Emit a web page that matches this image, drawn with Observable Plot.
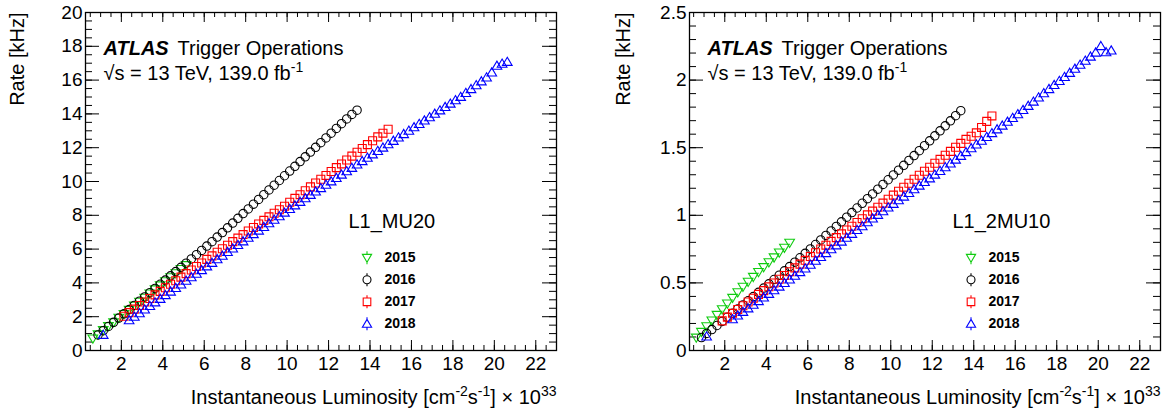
<!DOCTYPE html>
<html><head><meta charset="utf-8">
<script src="https://cdn.jsdelivr.net/npm/d3@7"></script>
<script src="https://cdn.jsdelivr.net/npm/@observablehq/plot@0.6"></script>
<style>
html,body{margin:0;padding:0;background:#fff;}
#wrap{position:relative;width:1172px;height:414px;overflow:hidden;font-family:"Liberation Sans",Arial,Helvetica,sans-serif;}
#wrap svg{position:absolute;top:0;}
</style></head><body><div id="wrap"></div>
<script>
// ---- luminosity bin centres (x 10^33 cm^-2 s^-1) ----
const lumiBins = [0.125,0.375,0.625,0.875,1.125,1.375,1.625,1.875,2.125,2.375,2.625,2.875,3.125,3.375,3.625,3.875,4.125,4.375,4.625,4.875,5.125,5.375,5.625,5.875,6.125,6.375,6.625,6.875,7.125,7.375,7.625,7.875,8.125,8.375,8.625,8.875,9.125,9.375,9.625,9.875,10.125,10.375,10.625,10.875,11.125,11.375,11.625,11.875,12.125,12.375,12.625,12.875,13.125,13.375,13.625,13.875,14.125,14.375,14.625,14.875,15.125,15.375,15.625,15.875,16.125,16.375,16.625,16.875,17.125,17.375,17.625,17.875,18.125,18.375,18.625,18.875,19.125,19.375,19.625,19.875,20.125,20.375,20.625,20.875];

const years = ["2015","2016","2017","2018"];
const yearColors = ["#11cc11","#000000","#ff0000","#0000ff"];

// ---- L1_MU20 rates [kHz], first bin given by start ----
const mu20Start = [0.625, 0.875, 2.125, 1.125];
const mu20_2015 = [0.71,0.95,1.20,1.44,1.67,1.93,2.16,2.40,2.65,2.88,3.12,3.37,3.61,3.85,4.09,4.33,4.57,4.82,5.05];
const mu20_2016 = [0.92,1.17,1.42,1.67,1.92,2.17,2.42,2.67,2.92,3.17,3.42,3.67,3.92,4.17,4.42,4.67,4.92,5.17,5.42,5.67,5.92,6.18,6.44,6.71,6.98,7.26,7.54,7.82,8.10,8.38,8.66,8.94,9.22,9.50,9.78,10.06,10.34,10.62,10.90,11.18,11.46,11.74,12.02,12.30,12.58,12.86,13.14,13.42,13.70,13.97,14.22];
const mu20_2017 = [2.03,2.24,2.45,2.66,2.87,3.08,3.29,3.50,3.71,3.92,4.13,4.34,4.55,4.76,4.97,5.18,5.39,5.60,5.81,6.02,6.23,6.44,6.65,6.86,7.07,7.28,7.49,7.70,7.91,8.12,8.33,8.54,8.77,9.00,9.22,9.45,9.68,9.91,10.13,10.36,10.59,10.82,11.04,11.27,11.50,11.73,11.95,12.18,12.41,12.64,12.86,13.09];
const mu20_2018 = [0.93,null,null,null,null,1.79,2.00,2.21,2.43,2.64,2.85,3.06,3.28,3.49,3.70,3.91,4.13,4.34,4.55,4.76,4.98,5.19,5.40,5.61,5.83,6.04,6.25,6.46,6.68,6.89,7.10,7.31,7.53,7.74,7.95,8.16,8.38,8.59,8.80,9.01,9.21,9.41,9.61,9.81,10.01,10.21,10.41,10.61,10.81,11.01,11.21,11.41,11.61,11.81,12.01,12.21,12.41,12.61,12.81,13.01,13.21,13.41,13.61,13.81,14.01,14.21,14.41,14.61,14.81,15.01,15.24,15.47,15.70,15.93,16.16,16.45,16.85,16.97,17.08];

// ---- L1_2MU10 rates [kHz] ----
const mu10Start = [0.625, 0.875, 1.875, 1.125];
const mu10_2015 = [0.095,0.137,0.179,0.221,0.263,0.305,0.347,0.389,0.430,0.471,0.508,0.544,0.580,0.616,0.652,0.688,0.724,0.760,0.796];
const mu10_2016 = [0.096,0.126,0.155,0.185,0.215,0.246,0.276,0.307,0.337,0.368,0.399,0.430,0.462,0.493,0.525,0.557,0.589,0.621,0.653,0.686,0.719,0.751,0.784,0.818,0.851,0.884,0.918,0.952,0.986,1.020,1.054,1.089,1.123,1.158,1.193,1.228,1.263,1.299,1.334,1.370,1.406,1.442,1.478,1.515,1.551,1.588,1.625,1.662,1.699,1.737,1.774];
const mu10_2017 = [0.219,0.247,0.275,0.303,0.331,0.359,0.387,0.415,0.443,0.471,0.499,0.527,0.555,0.583,0.611,0.639,0.667,0.695,0.723,0.751,0.779,0.807,0.835,0.863,0.891,0.919,0.947,0.975,1.003,1.031,1.060,1.090,1.119,1.149,1.178,1.208,1.237,1.267,1.296,1.326,1.355,1.385,1.414,1.444,1.473,1.503,1.532,1.562,1.585,1.610,1.650,1.695,1.735];
const mu10_2018 = [0.104,null,null,null,null,0.232,0.259,0.286,0.312,0.339,0.366,0.392,0.419,0.446,0.473,0.500,0.526,0.553,0.580,0.607,0.635,0.664,0.692,0.721,0.749,0.778,0.806,0.835,0.863,0.892,0.920,0.949,0.977,1.004,1.031,1.058,1.085,1.112,1.139,1.166,1.193,1.220,1.247,1.274,1.301,1.328,1.356,1.384,1.412,1.440,1.468,1.496,1.524,1.552,1.580,1.608,1.636,1.664,1.692,1.720,1.748,1.779,1.810,1.841,1.872,1.903,1.934,1.964,1.994,2.024,2.054,2.084,2.114,2.144,2.174,2.204,2.252,2.207,2.219];

// ---- axis ticks ----
const xMajorTicks = [2,4,6,8,10,12,14,16,18,20,22];
const yMajorMU20 = [0,2,4,6,8,10,12,14,16,18,20];
const yMajor2MU10 = [0,0.5,1,1.5,2,2.5];

// ---- symbols (ROOT markers 32, 24, 25, 26) ----
const R = (size) => Math.sqrt(size / Math.PI);
const symTriDown = {draw(c, s){const r=R(s); c.moveTo(0,1.1*r); c.lineTo(1.15*r,-0.85*r); c.lineTo(-1.15*r,-0.85*r); c.closePath();}};
const symCircle = {draw(c, s){const r=R(s); c.moveTo(r,0); c.arc(0,0,r,0,2*Math.PI); c.closePath();}};
const symSquare = {draw(c, s){const r=R(s)*0.95; c.moveTo(-r,-r); c.lineTo(r,-r); c.lineTo(r,r); c.lineTo(-r,r); c.closePath();}};
const symTriUp = {draw(c, s){const r=R(s); c.moveTo(0,-1.1*r); c.lineTo(1.15*r,0.85*r); c.lineTo(-1.15*r,0.85*r); c.closePath();}};
const symbols = [symTriDown, symCircle, symSquare, symTriUp];
const symExt = [[0.85,1.1],[1,1],[0.95,0.95],[1.1,0.85]]; // top, bottom extents (in r)
function withBar(i){
  const base = symbols[i], [t,b] = symExt[i];
  return {draw(c, s){ base.draw(c, s); const r=R(s); c.moveTo(0,-t*r); c.lineTo(0,-6.5); c.moveTo(0,b*r); c.lineTo(0,6.5); }};
}

function rows(start, rates){
  const i0 = lumiBins.indexOf(start);
  return rates.map((v, j) => ({x: lumiBins[i0 + j], y: v})).filter(d => d.y != null);
}

const W = 586, H = 414, MT = 12, MB = 64;
const FH = H - MT - MB;

function panel(cfg){
  const FW = W - cfg.ml - cfg.mr;
  const xMinor = d3.range(0.5, 23, 0.5);
  const marks = [];
  // ticks (inside the frame, all four sides)
  marks.push(Plot.tickX(xMinor, {x: d=>d, insetTop: FH-5, strokeWidth: 1}));
  marks.push(Plot.tickX(xMinor, {x: d=>d, insetBottom: FH-5, strokeWidth: 1}));
  marks.push(Plot.tickX(xMajorTicks, {x: d=>d, insetTop: FH-10, strokeWidth: 1}));
  marks.push(Plot.tickX(xMajorTicks, {x: d=>d, insetBottom: FH-10, strokeWidth: 1}));
  marks.push(Plot.tickY(cfg.yMinor, {y: d=>d, insetRight: FW-7, strokeWidth: 1}));
  marks.push(Plot.tickY(cfg.yMinor, {y: d=>d, insetLeft: FW-7, strokeWidth: 1}));
  marks.push(Plot.tickY(cfg.yMajor, {y: d=>d, insetRight: FW-14, strokeWidth: 1}));
  marks.push(Plot.tickY(cfg.yMajor, {y: d=>d, insetLeft: FW-14, strokeWidth: 1}));
  // tick labels
  marks.push(Plot.text(xMajorTicks, {x: d=>d, frameAnchor: "bottom", lineAnchor: "top", dy: 6, text: d=>String(d), fontSize: 19, fill: "black"}));
  marks.push(Plot.text(cfg.yMajor, {y: d=>d, frameAnchor: "left", lineAnchor: "middle", textAnchor: "end", dx: -3, text: d=>String(d), fontSize: 19, fill: "black"}));
  marks.push(Plot.frame({stroke: "black", strokeWidth: 1.3}));
  // data
  cfg.series.forEach((s, i) => {
    marks.push(Plot.dot(rows(cfg.starts[i], s), {x: "x", y: "y", symbol: symbols[i], r: 4.2, stroke: yearColors[i], fill: "none", strokeWidth: 1.1}));
  });
  // texts
  const T = {frameAnchor: "top-left", lineAnchor: "middle", textAnchor: "start", fill: "black"};
  marks.push(Plot.text(["ATLAS"], {...T, dx: 18, dy: 36, fontSize: 20, fontWeight: "bold", fontStyle: "italic"}));
  marks.push(Plot.text(["Trigger Operations"], {...T, dx: 92, dy: 36, fontSize: 20}));
  marks.push(Plot.text(["√s = 13 TeV, 139.0 fb⁻¹"], {...T, dx: 18, dy: 61, fontSize: 20}));
  marks.push(Plot.text([cfg.trigger], {...T, dx: 263, dy: 209, fontSize: 20}));
  // legend
  years.forEach((yr, i) => {
    const dy = 245.3 + i * 22;
    marks.push(Plot.dot([yr], {frameAnchor: "top-left", dx: 281.5, dy, symbol: withBar(i), r: 4, stroke: yearColors[i], fill: "none", strokeWidth: 1.1}));
    marks.push(Plot.text([yr], {...T, dx: 299, dy, fontSize: 14, fontWeight: "bold"}));
  });
  // axis titles
  marks.push(Plot.text(["Rate [kHz]"], {frameAnchor: "top-left", lineAnchor: "middle", dx: cfg.rateDx, dy: 0, rotate: -90, textAnchor: "end", fontSize: 20, fill: "black"}));
  marks.push(Plot.text(["Instantaneous Luminosity [cm⁻²s⁻¹] × 10³³"], {frameAnchor: "bottom-right", lineAnchor: "middle", dx: 0, dy: 47, textAnchor: "end", fontSize: 20, fill: "black"}));

  const svg = Plot.plot({
    width: W, height: H,
    marginLeft: cfg.ml, marginRight: cfg.mr, marginTop: MT, marginBottom: MB,
    x: {domain: cfg.xDomain, axis: null},
    y: {domain: cfg.yDomain, axis: null},
    style: {fontFamily: '"Liberation Sans", Arial, Helvetica, sans-serif', background: "white", overflow: "visible", color: "black"},
    marks
  });
  svg.style.left = cfg.left + "px";
  // superscripts as real tspans
  svg.querySelectorAll("text").forEach(t => {
    const s = t.textContent;
    const sup = (v) => `<tspan dy="-8" font-size="14">${v}</tspan>`;
    if (s === "√s = 13 TeV, 139.0 fb⁻¹") {
      t.innerHTML = `√s = 13 TeV, 139.0 fb${sup("-1")}`;
    } else if (s.startsWith("Instantaneous")) {
      t.innerHTML = `Instantaneous Luminosity [cm${sup("-2")}<tspan dy="8">s</tspan>${sup("-1")}<tspan dy="8">] × 10</tspan>${sup("33")}`;
    }
  });
  return svg;
}

const wrap = document.getElementById("wrap");
wrap.appendChild(panel({
  left: 0, ml: 85, mr: 30, xDomain: [0.27, 23.0], yDomain: [0, 20],
  yMajor: yMajorMU20, yMinor: d3.range(0, 20.01, 0.5),
  series: [mu20_2015, mu20_2016, mu20_2017, mu20_2018], starts: mu20Start,
  trigger: "L1_MU20", rateDx: -68
}));
wrap.appendChild(panel({
  left: 586, ml: 103, mr: 12, xDomain: [0.3, 23.0], yDomain: [0, 2.5],
  yMajor: yMajor2MU10, yMinor: d3.range(0, 2.501, 0.1),
  series: [mu10_2015, mu10_2016, mu10_2017, mu10_2018], starts: mu10Start,
  trigger: "L1_2MU10", rateDx: -66
}));
</script></body></html>
